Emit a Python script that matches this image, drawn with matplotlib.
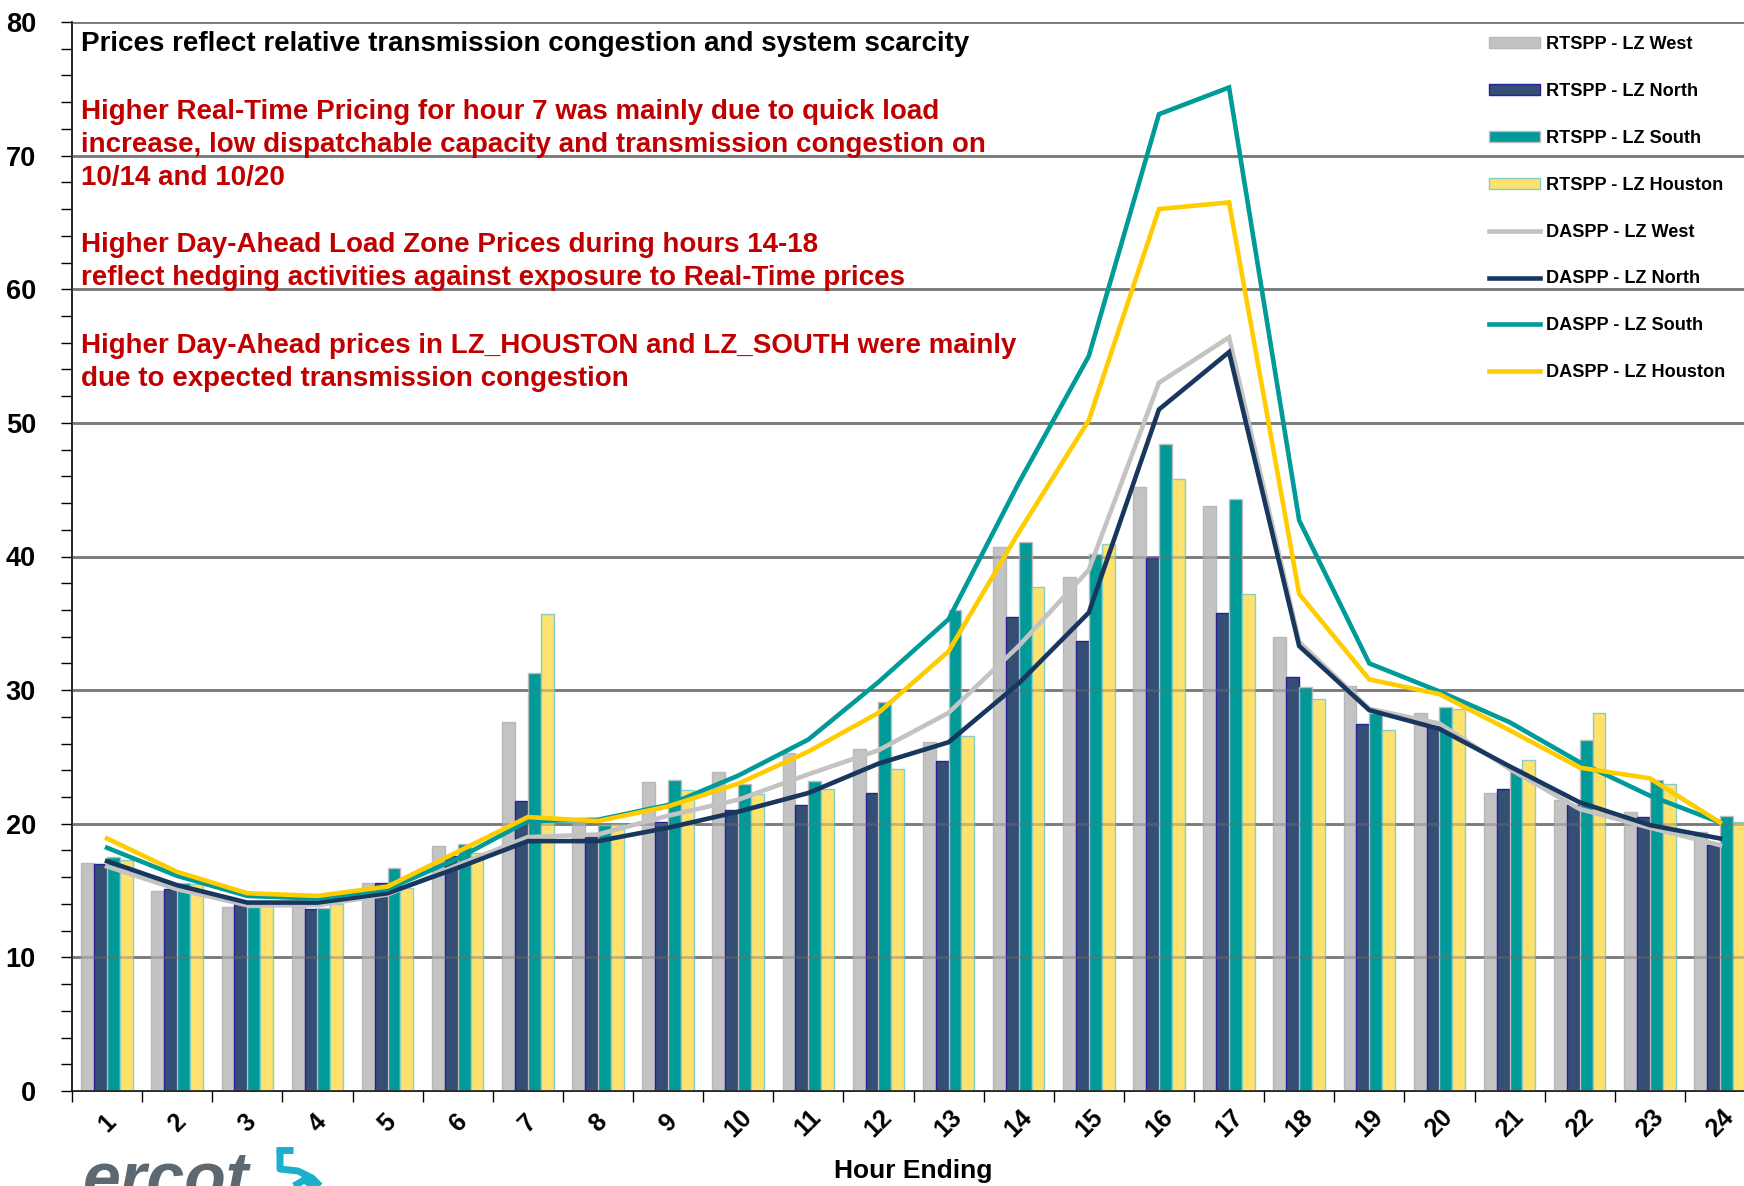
import numpy as np
import matplotlib
matplotlib.use("Agg")
import matplotlib.pyplot as plt
from matplotlib.lines import Line2D

plt.rcParams['font.family'] = ['Liberation Sans', 'DejaVu Sans']
plt.rcParams['font.weight'] = 'bold'

hours = [str(h) for h in range(1, 25)]

rt_west = [17.1, 15.0, 13.8, 13.8, 15.6, 18.3, 27.6, 20.2, 23.1, 23.9, 25.3, 25.6,
           26.1, 40.7, 38.5, 45.2, 43.8, 34.0, 30.3, 28.3, 22.3, 21.8, 20.9, 19.4]
rt_north = [17.0, 15.1, 14.0, 13.6, 15.6, 17.6, 21.7, 19.0, 20.1, 21.0, 21.4, 22.3,
            24.7, 35.5, 33.7, 39.9, 35.8, 31.0, 27.5, 27.3, 22.6, 21.4, 20.5, 18.4]
rt_south = [17.5, 15.6, 13.8, 13.7, 16.7, 18.5, 31.3, 19.9, 23.3, 23.0, 23.2, 29.1,
            36.0, 41.1, 40.2, 48.4, 44.3, 30.2, 28.3, 28.7, 24.1, 26.3, 23.3, 20.6]
rt_houston = [17.3, 15.5, 14.0, 14.0, 15.2, 17.8, 35.7, 20.0, 22.5, 22.2, 22.6, 24.1,
              26.6, 37.7, 40.9, 45.8, 37.2, 29.3, 27.0, 28.6, 24.8, 28.3, 23.0, 20.1]

da_west = [16.8, 15.1, 13.9, 13.9, 14.7, 16.9, 19.0, 19.2, 20.6, 21.8, 23.7, 25.5,
           28.3, 33.3, 39.0, 53.0, 56.4, 33.6, 28.6, 27.5, 24.1, 21.1, 19.7, 18.4]
da_north = [17.2, 15.4, 14.1, 14.1, 14.8, 16.7, 18.7, 18.7, 19.7, 20.9, 22.3, 24.5,
            26.1, 30.5, 35.8, 51.0, 55.3, 33.3, 28.5, 27.1, 24.3, 21.6, 19.9, 18.9]
da_south = [18.2, 16.1, 14.6, 14.4, 15.1, 17.4, 20.2, 20.3, 21.4, 23.6, 26.3, 30.6,
            35.3, 45.5, 55.0, 73.1, 75.1, 42.7, 32.0, 29.9, 27.6, 24.6, 22.1, 20.1]
da_houston = [18.9, 16.4, 14.8, 14.6, 15.3, 17.9, 20.5, 20.2, 21.3, 23.0, 25.4, 28.3,
              32.9, 41.8, 50.2, 66.0, 66.5, 37.2, 30.8, 29.7, 27.0, 24.2, 23.4, 20.1]

title_note = "Prices reflect relative transmission congestion and system scarcity"
red_notes = [
    "Higher Real-Time Pricing for hour 7 was mainly due to quick load",
    "increase, low dispatchable capacity and transmission congestion on",
    "10/14 and 10/20",
    "Higher Day-Ahead Load Zone Prices during hours 14-18",
    "reflect hedging activities against exposure to Real-Time prices",
    "Higher Day-Ahead prices in LZ_HOUSTON and LZ_SOUTH were mainly",
    "due to expected transmission congestion",
]
red_rows_px = [112, 145, 178, 245, 278, 346, 379]

W, H = 1744, 1186
fig = plt.figure(figsize=(W / 100, H / 100), dpi=100)
ax = fig.add_axes([72 / W, 1 - 1091 / H, (1755 - 72) / W, (1091 - 22) / H])

x = np.arange(1, 25)
w = 0.184
bar_specs = [
    (rt_west, "#C3C3C3", "#B8B8B8", "RTSPP - LZ West"),
    (rt_north, "#344E74", "#2B1F9C", "RTSPP - LZ North"),
    (rt_south, "#009A98", "#BDBDBD", "RTSPP - LZ South"),
    (rt_houston, "#FFE26E", "#86CFC6", "RTSPP - LZ Houston"),
]
handles = []
for i, (vals, fc, ec, lab) in enumerate(bar_specs):
    b = ax.bar(x + (i - 1.5) * w, vals, width=w, color=fc, edgecolor=ec,
               linewidth=1.0, label=lab, zorder=2)
    handles.append(b)

line_specs = [
    (da_west, "#C3C3C3", "DASPP - LZ West"),
    (da_north, "#17375E", "DASPP - LZ North"),
    (da_south, "#009A98", "DASPP - LZ South"),
    (da_houston, "#FFCC00", "DASPP - LZ Houston"),
]
for vals, c, lab in line_specs:
    ln, = ax.plot(x, vals, color=c, lw=3.3, label=lab, zorder=4,
                  solid_joinstyle='miter')
    handles.append(ln)

ax.set_xlim(0.5, 24.5)
ax.set_ylim(0, 80)
ax.set_yticks(np.arange(0, 81, 10))
ax.set_yticks(np.arange(0, 81, 2), minor=True)
ax.set_xticks(x)
ax.set_xticks(np.arange(0.5, 25, 1), minor=True)
ax.set_xticklabels(hours, rotation=45, ha='center', va='center', fontsize=18,
                   fontweight='bold')
ax.tick_params(axis='x', which='major', length=0, pad=23)
ax.tick_params(axis='x', which='minor', length=8, width=1, direction='out')
ax.tick_params(axis='y', which='both', length=8, width=1, direction='out')
ax.tick_params(axis='y', which='major', labelsize=19.5, pad=18)
for t in ax.get_yticklabels():
    t.set_fontweight('bold')

ax.set_axisbelow(True)
ax.yaxis.grid(True, color='#808080', lw=2.0)
for yv in ax.get_yticks():
    ax.axhline(yv, color='#707070', lw=2.0, alpha=0.4, zorder=3)
for s in ['top', 'right']:
    ax.spines[s].set_visible(False)
ax.spines['left'].set_linewidth(1.2)
ax.spines['bottom'].set_linewidth(1.2)

ax.set_xlabel("Hour Ending", fontsize=19, fontweight='bold')
ax.xaxis.label.set_va('center')
ax.xaxis.set_label_coords(0.5, -(1171 - 1091) / (1091 - 22), transform=ax.transAxes)

fig.text(81 / W, 1 - 44 / H, title_note, fontsize=20, fontweight='bold',
         color='black', va='center', ha='left')
for txt, yp in zip(red_notes, red_rows_px):
    fig.text(81 / W, 1 - yp / H, txt, fontsize=20, fontweight='bold',
             color='#C00000', va='center', ha='left')

leg = fig.legend(handles=handles, loc='upper left',
                 bbox_to_anchor=(1482 / W, 1 - 29 / H), frameon=False,
                 fontsize=13.1, handlelength=2.8, handleheight=0.55,
                 handletextpad=0.3, labelspacing=1.64, borderaxespad=0)

# ercot logo, cut by the bottom edge
fig.text(83 / W, 1 - 1200 / H, "ercot", fontsize=49, fontweight='bold',
         style='italic', color='#5E6870', va='baseline', ha='left')
logo_pts = [
    [(276, 1150), (293, 1150)],
    [(280, 1150), (280, 1169), (298, 1171), (312, 1178), (320, 1186)],
    [(294, 1186), (304, 1180), (314, 1186)],
]
for pts in logo_pts:
    xs = [p[0] / W for p in pts]
    ys = [1 - p[1] / H for p in pts]
    fig.add_artist(Line2D(xs, ys, color='#1AAFCB', lw=5, solid_capstyle='butt'))

fig.savefig("out.png", dpi=100)
